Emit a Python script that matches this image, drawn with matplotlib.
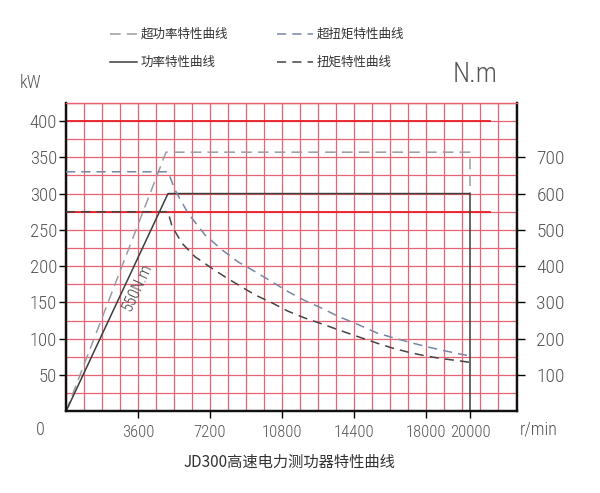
import matplotlib
matplotlib.use("Agg")
import matplotlib.pyplot as plt
from matplotlib.ticker import MultipleLocator
from matplotlib.lines import Line2D

# speed (r/min) vs power (kW), left axis
power_n = [0, 5100, 20200, 20200]
power_kw = [0, 300, 300, 0]
over_power_n = [0, 5000, 20200, 20200]
over_power_kw = [0, 357, 357, 300]

# speed (r/min) vs torque (N.m), right axis
torque_n = [0, 5100, 5300, 5800, 6450, 7300, 8050, 9450, 10300, 11100, 11950,
            12800, 13600, 14700, 15550, 16350, 17200, 18050, 18850, 19700, 20200]
torque_nm = [550, 550, 510, 463, 426, 394, 367, 321, 299, 276, 257,
             241, 225, 204, 188, 174, 162, 152, 145, 139, 135]
over_torque_n = [0, 5100, 5450, 6100, 6950, 7800, 8600, 9450, 10300, 11100, 11950,
                 12800, 13600, 14450, 15550, 16350, 17200, 18050, 18850, 19700, 20200]
over_torque_nm = [660, 660, 610, 546, 486, 445, 412, 385, 357, 330, 305,
                  284, 262, 243, 216, 203, 190, 178, 168, 158, 153]

# red reference lines (kW)
ref_kw = [400, 275]
ref_end = 21200

x_ticks = [3600, 7200, 10800, 14400, 18000, 20200]
x_labels = ["3600", "7200", "10800", "14400", "18000", "20000"]
kw_ticks = [50, 100, 150, 200, 250, 300, 350, 400]
nm_ticks = [100, 200, 300, 400, 500, 600, 700]

NARROW = ["Roboto Condensed", "DejaVu Sans"]
CJK = ["Noto Sans CJK SC", "DejaVu Sans"]
GRID = "#e86474"
LBL = "#555555"

fig = plt.figure(figsize=(6, 4.93), dpi=100)
ax = fig.add_axes([66 / 600, 1 - 411.4 / 493, 451 / 600, 308.6 / 493])
ax2 = ax.twinx()

ax.set_xlim(0, 22550)
ax.set_ylim(0, 425)
ax2.set_ylim(0, 850)

ax.xaxis.set_minor_locator(MultipleLocator(900))
ax.yaxis.set_minor_locator(MultipleLocator(25))
ax.xaxis.remove_overlapping_locs = False
ax.yaxis.remove_overlapping_locs = False
ax.grid(which="minor", color=GRID, lw=0.9)
ax.tick_params(which="minor", length=0)

ax.set_xticks(x_ticks)
ax.set_xticklabels(x_labels)
ax.set_yticks(kw_ticks)
ax2.set_yticks(nm_ticks)

ax.tick_params(axis="x", length=5, width=1, pad=5, labelsize=12, labelcolor=LBL)
ax.tick_params(axis="y", length=5, width=1, pad=1.5, labelsize=13.5, labelcolor=LBL)
ax2.tick_params(axis="y", length=6, width=1, pad=8, labelsize=14, labelcolor=LBL)
for lab in ax.get_xticklabels() + ax.get_yticklabels() + ax2.get_yticklabels():
    lab.set_family(NARROW)
    lab.set_weight("light")

for a in (ax, ax2):
    for s in ("left", "bottom", "right"):
        a.spines[s].set_linewidth(1.6)
        a.spines[s].set_color("#111111")
    a.spines["top"].set_color(GRID)
    a.spines["top"].set_linewidth(0.9)

for lvl in ref_kw:
    ax.plot([0, ref_end], [lvl, lvl], color="#e82028", lw=1.3, zorder=1.6)

ax.plot(over_power_n, over_power_kw, color="#9a9ca4", lw=1.1, dashes=(7, 4), zorder=3)
ax.plot(power_n, power_kw, color="#3a3f3c", lw=1.1, zorder=3)
ax2.plot(over_torque_n, over_torque_nm, color="#7688a4", lw=1.1, dashes=(6, 4), zorder=3)
ax2.plot(torque_n, torque_nm, color="#454545", lw=1.1, dashes=(6, 4), zorder=3)

ax.text(3550, 171, "550N.m", rotation=65, ha="center", va="center",
        fontsize=12, color="#444444", family=NARROW, weight="light")

# axis captions
fig.text(31 / 600, 1 - 83 / 493, "kW", ha="center", va="center", fontsize=13,
         color=LBL, family=NARROW, weight="light")
fig.text(475 / 600, 1 - 75 / 493, "N.m", ha="center", va="center", fontsize=20,
         color=LBL, family=NARROW, weight="light")
fig.text(40 / 600, 1 - 430 / 493, "0", ha="center", va="center", fontsize=13,
         color=LBL, family=NARROW, weight="light")
fig.text(539 / 600, 1 - 430 / 493, "r/min", ha="center", va="center", fontsize=13,
         color=LBL, family=NARROW, weight="light")
fig.text(289 / 600, 1 - 462 / 493, "JD300高速电力测功器特性曲线", ha="center",
         va="center", fontsize=11, color="#333333", family=CJK)

# legend drawn by hand at the top
legend_items = [
    (110, 137, 34, "#9a9ca4", (7, 4), "超功率特性曲线"),
    (277, 313, 34, "#7688a4", (6, 4), "超扭矩特性曲线"),
    (110, 137, 62, "#3a3f3c", None, "功率特性曲线"),
    (277, 313, 62, "#454545", (6, 4), "扭矩特性曲线"),
]
for x0, x1, y, col, dash, txt in legend_items:
    yy = 1 - y / 493
    ln = Line2D([x0 / 600, x1 / 600], [yy, yy], transform=fig.transFigure,
                color=col, lw=1.1)
    if dash:
        ln.set_dashes(dash)
    fig.add_artist(ln)
    fig.text((x1 + 4) / 600, yy, txt, ha="left", va="center", fontsize=9,
             color="#333333", family=CJK)

fig.savefig("out.png", dpi=100, facecolor="white")
